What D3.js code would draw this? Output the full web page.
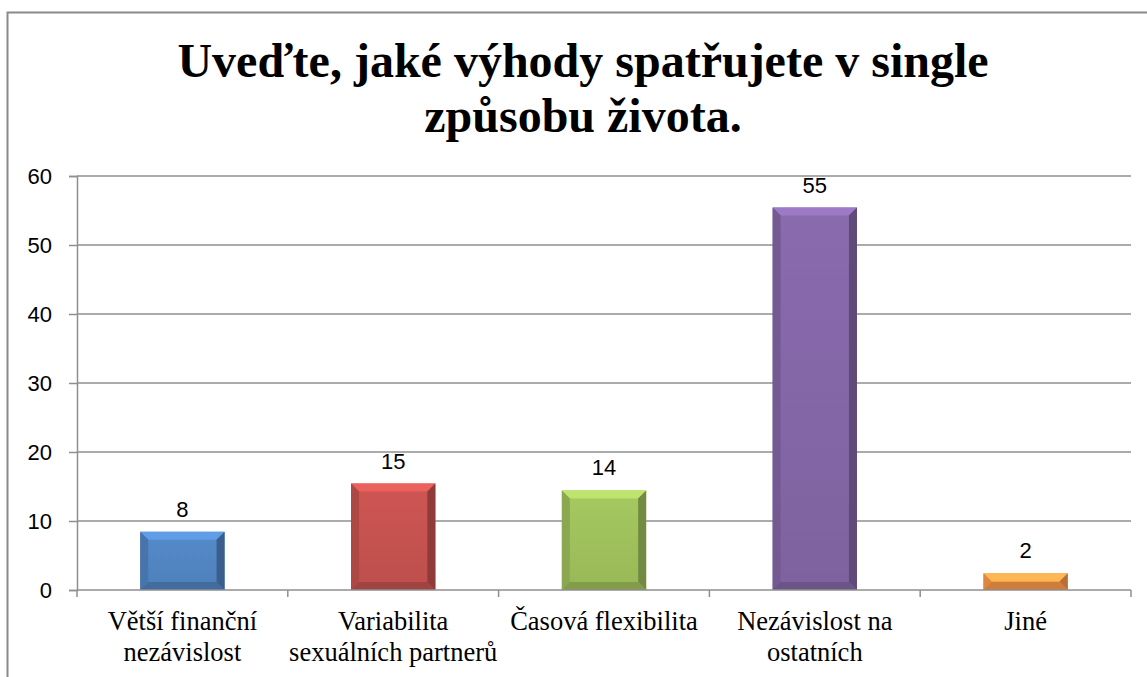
<!DOCTYPE html>
<html>
<head>
<meta charset="utf-8">
<script src="https://cdn.jsdelivr.net/npm/d3@7"></script>
<style>
  body { margin: 0; background: #fff; }
</style>
</head>
<body>
<script>
// data
var categories = ["Větší finanční\nnezávislost", "Variabilita\nsexuálních partnerů", "Časová flexibilita", "Nezávislost na\nostatních", "Jiné"];
var values = [8, 15, 14, 55, 2];
var colors = ["#4f81bd", "#c0504d", "#9bbb59", "#8064a2", "#f79646"];
var yTicks = [0, 10, 20, 30, 40, 50, 60];
var titleLines = ["Uveďte, jaké výhody spatřujete v single", "způsobu života."];

var width = 1147, height = 677;
var plotLeft = 77, plotRight = 1131, plotTop = 176, plotBottom = 590;
var bevel = 8, lift = 3;

var svg = d3.select("body").append("svg")
    .attr("width", width)
    .attr("height", height);

// chart border (only left and top visible)
svg.append("path")
   .attr("d", "M7.5," + height + "V12.5H" + width)
   .attr("fill", "none")
   .attr("stroke", "#8a8a8a")
   .attr("stroke-width", 2);

// title
svg.append("g").selectAll("text")
   .data(titleLines)
   .join("text")
   .attr("x", 583)
   .attr("y", function(d, i) { return 77 + i * 55; })
   .attr("text-anchor", "middle")
   .attr("font-family", "'Liberation Serif', 'Times New Roman', serif")
   .attr("font-weight", "bold")
   .attr("font-size", 48)
   .attr("fill", "#000")
   .text(function(d) { return d; });

var x = d3.scaleBand()
    .domain(categories)
    .range([plotLeft, plotRight])
    .paddingInner(0.6)
    .paddingOuter(0.3);

var y = d3.scaleLinear()
    .domain([0, 60])
    .range([plotBottom, plotTop]);

// gridlines
svg.append("g").selectAll("line")
   .data(yTicks.slice(1))
   .join("line")
   .attr("x1", plotLeft).attr("x2", plotRight)
   .attr("y1", function(d) { return y(d); })
   .attr("y2", function(d) { return y(d); })
   .attr("stroke", "#8f8f8f")
   .attr("stroke-width", 1.5);

// y axis
var yAxis = svg.append("g")
   .attr("transform", "translate(" + plotLeft + ",0)")
   .call(d3.axisLeft(y).tickValues(yTicks).tickSize(8).tickPadding(17));
yAxis.select(".domain").attr("stroke", "#8f8f8f").attr("stroke-width", 1.5);
yAxis.selectAll(".tick line").attr("stroke", "#8f8f8f").attr("stroke-width", 1.5);
yAxis.selectAll(".tick text")
   .attr("font-family", "'Liberation Sans', Arial, sans-serif")
   .attr("font-size", 22)
   .attr("fill", "#000");

// bars with bevel
var defs = svg.append("defs");
var bars = svg.append("g").selectAll("g")
   .data(values)
   .join("g");

bars.each(function(v, i) {
    var g = d3.select(this);
    var x0 = x(categories[i]), x1 = x0 + x.bandwidth();
    var y0 = y(v) - lift, y1 = plotBottom;
    var c = d3.color(colors[i]);
    var b = Math.min(bevel, (y1 - y0) / 2);

    var gid = "grad" + i;
    var grad = defs.append("linearGradient").attr("id", gid)
        .attr("x1", 0).attr("y1", 0).attr("x2", 0).attr("y2", 1);
    grad.append("stop").attr("offset", "0%").attr("stop-color", c.brighter(0.2));
    grad.append("stop").attr("offset", "100%").attr("stop-color", c.darker(0.05));

    g.append("rect")
     .attr("x", x0).attr("y", y0)
     .attr("width", x1 - x0).attr("height", y1 - y0)
     .attr("fill", "url(#" + gid + ")");
    // top bevel
    g.append("path")
     .attr("d", "M" + x0 + "," + y0 + "L" + x1 + "," + y0 + "L" + (x1 - b) + "," + (y0 + b) + "L" + (x0 + b) + "," + (y0 + b) + "Z")
     .attr("fill", c.brighter(0.55));
    // left bevel
    g.append("path")
     .attr("d", "M" + x0 + "," + y0 + "L" + (x0 + b) + "," + (y0 + b) + "L" + (x0 + b) + "," + (y1 - b) + "L" + x0 + "," + y1 + "Z")
     .attr("fill", c.darker(0.3));
    // right bevel
    g.append("path")
     .attr("d", "M" + x1 + "," + y0 + "L" + (x1 - b) + "," + (y0 + b) + "L" + (x1 - b) + "," + (y1 - b) + "L" + x1 + "," + y1 + "Z")
     .attr("fill", c.darker(0.85));
    // bottom bevel
    g.append("path")
     .attr("d", "M" + x0 + "," + y1 + "L" + (x0 + b) + "," + (y1 - b) + "L" + (x1 - b) + "," + (y1 - b) + "L" + x1 + "," + y1 + "Z")
     .attr("fill", c.darker(0.5));
});

// value labels
svg.append("g").selectAll("text")
   .data(values)
   .join("text")
   .attr("x", function(d, i) { return x(categories[i]) + x.bandwidth() / 2; })
   .attr("y", function(d) { return y(d) - lift - 15; })
   .attr("text-anchor", "middle")
   .attr("font-family", "'Liberation Sans', Arial, sans-serif")
   .attr("font-size", 22)
   .attr("fill", "#000")
   .text(function(d) { return d; });

// x axis
svg.append("line")
   .attr("x1", plotLeft).attr("x2", plotRight)
   .attr("y1", plotBottom).attr("y2", plotBottom)
   .attr("stroke", "#8f8f8f")
   .attr("stroke-width", 1.5);

var edges = categories.map(function(c) { return x(c) - x.step() * x.paddingInner() / 2; });
edges.push(plotRight);
svg.append("g").selectAll("line")
   .data(edges)
   .join("line")
   .attr("x1", function(d) { return d; }).attr("x2", function(d) { return d; })
   .attr("y1", plotBottom).attr("y2", plotBottom + 7)
   .attr("stroke", "#8f8f8f")
   .attr("stroke-width", 1.5);

// category labels
var catText = svg.append("g").selectAll("text")
   .data(categories)
   .join("text")
   .attr("text-anchor", "middle")
   .attr("font-family", "'Liberation Serif', 'Times New Roman', serif")
   .attr("font-size", 26.5)
   .attr("fill", "#000");

catText.each(function(d) {
    var t = d3.select(this);
    var cx = x(d) + x.bandwidth() / 2;
    d.split("\n").forEach(function(line, j) {
        t.append("tspan")
         .attr("x", cx)
         .attr("y", 630 + j * 30.5)
         .text(line);
    });
});
</script>
</body>
</html>
